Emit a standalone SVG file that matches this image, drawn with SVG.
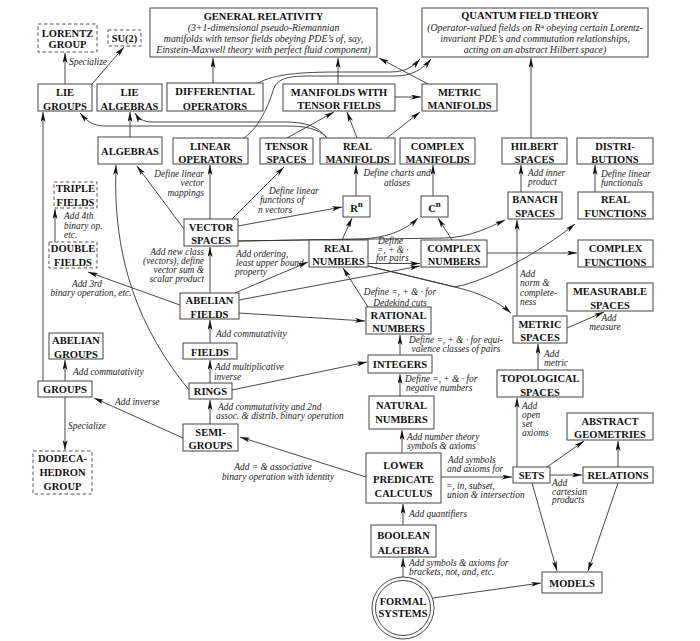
<svg xmlns="http://www.w3.org/2000/svg" width="700" height="641" viewBox="0 0 700 641">
<style>
.n rect,.n circle{fill:#fff;stroke:#444;stroke-width:1}
.d rect{fill:#fff;stroke:#555;stroke-width:1;stroke-dasharray:3.5 2.5}
.t{font-family:"Liberation Serif","Times New Roman",serif;font-weight:bold;font-size:10.5px;text-anchor:middle;fill:#111}
.s{font-family:"Liberation Serif","Times New Roman",serif;font-style:italic;font-size:9.8px;text-anchor:middle;fill:#222}
.l{font-family:"Liberation Serif","Times New Roman",serif;font-style:italic;font-size:9.4px;fill:#222}
.m{text-anchor:middle}
.e{text-anchor:end}
#edges path{fill:none;stroke:#333;stroke-width:0.9;marker-end:url(#a)}
</style>
<defs>
<marker id="a" viewBox="0 0 10 5" refX="10" refY="2.5" markerWidth="10" markerHeight="5" markerUnits="userSpaceOnUse" orient="auto"><path d="M0,0 L10,2.5 L0,5 L2.5,2.5z" fill="#111"/></marker>
</defs>
<rect width="700" height="641" fill="#fff"/>

<g id="edges">
<path d="M65,84 V53"/>
<path d="M92,84 L124,47"/>
<path d="M213,83 V58"/>
<path d="M338,84 V58"/>
<path d="M395,97 H421"/>
<path d="M428,84 L379,58"/>
<path d="M258,83 C275,74 300,72 340,72 L390,72 C405,72 413,67 420,59"/>
<path d="M244,138 C262,125 270,100 274,88 C278,78 290,76 310,76 L395,76 C412,76 423,69 431,59"/>
<path d="M327,138 C318,128 305,126 285,126 L105,126 C92,126 86,120 80,113"/>
<path d="M327,138 C318,126 305,122 285,122 L152,122 C143,122 138,118 135,113"/>
<path d="M287,138 L334,112"/>
<path d="M357,138 L347,112"/>
<path d="M387,138 L420,112"/>
<path d="M130,137 V112"/>
<path d="M184,229 L137,166"/>
<path d="M210,219 V165"/>
<path d="M232,219 L284,167"/>
<path d="M238,226 L342,207"/>
<path d="M238,241 L360,239 C390,238 408,228 418,218"/>
<path d="M238,241 L445,238 C470,237 488,228 505,220"/>
<path d="M356,196 V165"/>
<path d="M433,196 V165"/>
<path d="M342,240 L352,218"/>
<path d="M452,240 L438,218"/>
<path d="M368,263.5 H420"/>
<path d="M235,293 L308,262"/>
<path d="M239,300 L420,266"/>
<path d="M239,313 L365,321"/>
<path d="M368,307 L343,268"/>
<path d="M368,266 L455,287 C480,293 497,301 511,313"/>
<path d="M368,266 L455,287 C490,280 540,252 575,224"/>
<path d="M487,253 H577"/>
<path d="M210,293 V247"/>
<path d="M180,305 L88,272"/>
<path d="M55,242 V209"/>
<path d="M210,343 V320"/>
<path d="M210,383 V360"/>
<path d="M210,424 V400"/>
<path d="M189,390 C140,330 112,260 116,165"/>
<path d="M232,390 L367,362"/>
<path d="M43,381 V112"/>
<path d="M65,381 V360"/>
<path d="M65,397 V450"/>
<path d="M183,438 L94,398"/>
<path d="M366,477 L240,437"/>
<path d="M400,355 V335"/>
<path d="M400,396 V374"/>
<path d="M402,453 V430"/>
<path d="M403,525 V504"/>
<path d="M403,577 V558"/>
<path d="M433,598 L541,583"/>
<path d="M441,477 H512"/>
<path d="M517,467 V398"/>
<path d="M538,370 V344"/>
<path d="M517,316 V220"/>
<path d="M521,192 V165"/>
<path d="M531,138 V58"/>
<path d="M595,192 V165"/>
<path d="M567,328 L604,312"/>
<path d="M547,467 L584,441"/>
<path d="M618,467 V441"/>
<path d="M550,475 H582"/>
<path d="M532,483 L557,571"/>
<path d="M618,483 L588,571"/>
</g>

<g id="labels">
<text class="l" x="69" y="65">Specialize</text>
<text class="l e" x="204" y="176.5">Define linear</text>
<text class="l e" x="204" y="186">vector</text>
<text class="l e" x="204" y="195.5">mappings</text>
<text class="l" x="269" y="193.5">Define linear</text>
<text class="l" x="260" y="203">functions of</text>
<text class="l" x="258" y="212.5">n vectors</text>
<text class="l m" x="397" y="176">Define charts and</text>
<text class="l m" x="397" y="186">atlases</text>
<text class="l" x="378" y="244">Define</text>
<text class="l" x="377" y="252.5">=, + &amp; ·</text>
<text class="l" x="376" y="261">for pairs</text>
<text class="l" x="236" y="257">Add ordering,</text>
<text class="l" x="236" y="266">least upper bound</text>
<text class="l" x="235" y="275">property</text>
<text class="l m" x="400" y="295">Define =, + &amp; · for</text>
<text class="l m" x="400" y="305.5">Dedekind cuts</text>
<text class="l e" x="204" y="255">Add new class</text>
<text class="l e" x="204" y="264">(vectors), define</text>
<text class="l e" x="204" y="273">vector sum &amp;</text>
<text class="l e" x="204" y="282">scalar product</text>
<text class="l m" x="87" y="287">Add 3rd</text>
<text class="l m" x="91" y="296">binary operation, etc.</text>
<text class="l" x="64" y="219">Add 4th</text>
<text class="l" x="64" y="228.5">binary op.</text>
<text class="l" x="64" y="238">etc.</text>
<text class="l" x="216" y="337">Add commutativity</text>
<text class="l" x="215" y="370">Add multiplicative</text>
<text class="l" x="214" y="379.5">inverse</text>
<text class="l" x="218" y="410">Add commutativity and 2nd</text>
<text class="l" x="216" y="419">assoc. &amp; distrib. binary operation</text>
<text class="l" x="73" y="375">Add commutativity</text>
<text class="l" x="115" y="405">Add inverse</text>
<text class="l" x="68" y="429">Specialize</text>
<text class="l m" x="273" y="470">Add = &amp; associative</text>
<text class="l m" x="278" y="480">binary operation with identity</text>
<text class="l m" x="456" y="343">Define =, + &amp; · for equi-</text>
<text class="l m" x="456" y="352">valence classes of pairs</text>
<text class="l" x="405" y="382">Define =, + &amp; · for</text>
<text class="l" x="406" y="391">negative numbers</text>
<text class="l" x="407" y="439.5">Add number theory</text>
<text class="l" x="407" y="448.5">symbols &amp; axioms</text>
<text class="l" x="448" y="463">Add symbols</text>
<text class="l" x="447" y="472">and axioms for</text>
<text class="l" x="446" y="488.5">=, in, subset,</text>
<text class="l" x="447" y="497.5">union &amp; intersection</text>
<text class="l" x="409" y="517">Add quantifiers</text>
<text class="l" x="409" y="566">Add symbols &amp; axioms for</text>
<text class="l" x="409" y="575">brackets, not, and, etc.</text>
<text class="l" x="522" y="409">Add</text>
<text class="l" x="522" y="418">open</text>
<text class="l" x="522" y="427">set</text>
<text class="l" x="522" y="436">axioms</text>
<text class="l" x="544" y="357">Add</text>
<text class="l" x="544" y="366">metric</text>
<text class="l" x="552" y="486">Add</text>
<text class="l" x="552" y="494.5">cartesian</text>
<text class="l" x="552" y="503">products</text>
<text class="l m" x="609" y="321">Add</text>
<text class="l m" x="605" y="330">measure</text>
<text class="l" x="520" y="277">Add</text>
<text class="l" x="520" y="286">norm &amp;</text>
<text class="l" x="520" y="295.5">complete-</text>
<text class="l" x="520" y="304.5">ness</text>
<text class="l" x="528" y="176">Add inner</text>
<text class="l" x="528" y="185">product</text>
<text class="l" x="601" y="177">Define linear</text>
<text class="l" x="601" y="186">functionals</text>
</g>

<g id="lorentz" class="d"><rect x="38" y="24" width="59" height="28"/><text class="t" x="67.5" y="37">LORENTZ</text><text class="t" x="67.5" y="48">GROUP</text></g>
<g id="su2" class="d"><rect x="108" y="30" width="33" height="16"/><text class="t" x="124.5" y="42">SU(2)</text></g>
<g id="gr" class="n"><rect x="150" y="8" width="227" height="49"/><text class="t" x="263.5" y="19.5">GENERAL RELATIVITY</text><text class="s" x="263.5" y="30.5">(3+1-dimensional pseudo-Riemannian</text><text class="s" x="263.5" y="41.5">manifolds with tensor fields obeying PDE’s of, say,</text><text class="s" x="263.5" y="52.5">Einstein-Maxwell theory with perfect fluid component)</text></g>
<g id="qft" class="n"><rect x="422" y="8" width="226" height="49"/><text class="t" x="530" y="19">QUANTUM FIELD THEORY</text><text class="s" x="535" y="31">(Operator-valued fields on R<tspan font-style="normal" font-size="7" dy="-2.5">4</tspan><tspan dy="2.5"> obeying certain Lorentz-</tspan></text><text class="s" x="535" y="41.5">invariant PDE’s and commutation relationships,</text><text class="s" x="535" y="52.5">acting on an abstract Hilbert space)</text></g>
<g id="liegroups" class="n"><rect x="38" y="84" width="54" height="27"/><text class="t" x="65" y="96">LIE</text><text class="t" x="65" y="109.5">GROUPS</text></g>
<g id="liealgebras" class="n"><rect x="97" y="84" width="65" height="27"/><text class="t" x="129.5" y="96">LIE</text><text class="t" x="129.5" y="109.5">ALGEBRAS</text></g>
<g id="diffops" class="n"><rect x="167" y="83" width="96" height="28"/><text class="t" x="215" y="95">DIFFERENTIAL</text><text class="t" x="215" y="109.5">OPERATORS</text></g>
<g id="mwtf" class="n"><rect x="283" y="84" width="112" height="27"/><text class="t" x="339" y="95.5">MANIFOLDS WITH</text><text class="t" x="339" y="109">TENSOR FIELDS</text></g>
<g id="metricman" class="n"><rect x="422" y="84" width="75" height="27"/><text class="t" x="459.5" y="95.5">METRIC</text><text class="t" x="459.5" y="109">MANIFOLDS</text></g>
<g id="algebras" class="n"><rect x="98" y="137" width="64" height="27"/><text class="t" x="130" y="154.5">ALGEBRAS</text></g>
<g id="linops" class="n"><rect x="173" y="138" width="75" height="26"/><text class="t" x="210.5" y="149.5">LINEAR</text><text class="t" x="210.5" y="163">OPERATORS</text></g>
<g id="tensorsp" class="n"><rect x="260" y="138" width="53" height="26"/><text class="t" x="286.5" y="149.5">TENSOR</text><text class="t" x="286.5" y="163">SPACES</text></g>
<g id="realman" class="n"><rect x="320" y="138" width="75" height="26"/><text class="t" x="357.5" y="149.5">REAL</text><text class="t" x="357.5" y="163">MANIFOLDS</text></g>
<g id="complexman" class="n"><rect x="400" y="138" width="75" height="26"/><text class="t" x="437.5" y="149.5">COMPLEX</text><text class="t" x="437.5" y="163">MANIFOLDS</text></g>
<g id="hilbert" class="n"><rect x="502" y="138" width="65" height="26"/><text class="t" x="534.5" y="149.5">HILBERT</text><text class="t" x="534.5" y="163">SPACES</text></g>
<g id="distrib" class="n"><rect x="577" y="138" width="76" height="26"/><text class="t" x="615" y="149.5">DISTRI-</text><text class="t" x="615" y="163">BUTIONS</text></g>
<g id="triple" class="d"><rect x="54" y="182" width="43" height="26"/><text class="t" x="75.5" y="192">TRIPLE</text><text class="t" x="75.5" y="206">FIELDS</text></g>
<g id="double" class="d"><rect x="49" y="242" width="48" height="26"/><text class="t" x="73" y="252">DOUBLE</text><text class="t" x="73" y="266">FIELDS</text></g>
<g id="rn" class="n"><rect x="343" y="196" width="27" height="21"/><text class="t" x="356.5" y="211.5">R<tspan font-size="9" dy="-5">n</tspan></text></g>
<g id="cn" class="n"><rect x="421" y="196" width="27" height="21"/><text class="t" x="434.5" y="211.5">C<tspan font-size="9" dy="-5">n</tspan></text></g>
<g id="banach" class="n"><rect x="508" y="192" width="54" height="27"/><text class="t" x="535" y="203">BANACH</text><text class="t" x="535" y="216.5">SPACES</text></g>
<g id="realfunc" class="n"><rect x="578" y="192" width="75" height="27"/><text class="t" x="615.5" y="203">REAL</text><text class="t" x="615.5" y="216.5">FUNCTIONS</text></g>
<g id="vector" class="n"><rect x="184" y="219" width="54" height="27"/><text class="t" x="211" y="230.5">VECTOR</text><text class="t" x="211" y="244">SPACES</text></g>
<g id="realnum" class="n"><rect x="309" y="240" width="59" height="27"/><text class="t" x="338.5" y="251.5">REAL</text><text class="t" x="338.5" y="265">NUMBERS</text></g>
<g id="complexnum" class="n"><rect x="421" y="240" width="66" height="27"/><text class="t" x="454" y="251.5">COMPLEX</text><text class="t" x="454" y="265">NUMBERS</text></g>
<g id="complexfunc" class="n"><rect x="578" y="240" width="75" height="27"/><text class="t" x="615.5" y="252">COMPLEX</text><text class="t" x="615.5" y="265.5">FUNCTIONS</text></g>
<g id="measurable" class="n"><rect x="567" y="283" width="86" height="28"/><text class="t" x="610" y="294.5">MEASURABLE</text><text class="t" x="610" y="308.5">SPACES</text></g>
<g id="abelianfields" class="n"><rect x="180" y="293" width="59" height="26"/><text class="t" x="209.5" y="304">ABELIAN</text><text class="t" x="209.5" y="318">FIELDS</text></g>
<g id="rational" class="n"><rect x="366" y="307" width="65" height="27"/><text class="t" x="398.5" y="318.5">RATIONAL</text><text class="t" x="398.5" y="332">NUMBERS</text></g>
<g id="metricsp" class="n"><rect x="513" y="316" width="54" height="27"/><text class="t" x="540" y="327.5">METRIC</text><text class="t" x="540" y="341">SPACES</text></g>
<g id="abeliangroups" class="n"><rect x="49" y="333" width="54" height="26"/><text class="t" x="76" y="344">ABELIAN</text><text class="t" x="76" y="357.5">GROUPS</text></g>
<g id="fields" class="n"><rect x="183" y="343" width="54" height="16"/><text class="t" x="210" y="355.5">FIELDS</text></g>
<g id="integers" class="n"><rect x="368" y="355" width="64" height="18"/><text class="t" x="400" y="367.5">INTEGERS</text></g>
<g id="topological" class="n"><rect x="497" y="370" width="86" height="27"/><text class="t" x="540" y="381.5">TOPOLOGICAL</text><text class="t" x="540" y="395.5">SPACES</text></g>
<g id="groups" class="n"><rect x="38" y="381" width="54" height="16"/><text class="t" x="65" y="392.5">GROUPS</text></g>
<g id="rings" class="n"><rect x="189" y="383" width="43" height="16"/><text class="t" x="210.5" y="394.5">RINGS</text></g>
<g id="natural" class="n"><rect x="369" y="396" width="65" height="33"/><text class="t" x="401.5" y="409">NATURAL</text><text class="t" x="401.5" y="422.5">NUMBERS</text></g>
<g id="abstractgeo" class="n"><rect x="567" y="413" width="86" height="27"/><text class="t" x="610" y="424.5">ABSTRACT</text><text class="t" x="610" y="438">GEOMETRIES</text></g>
<g id="semigroups" class="n"><rect x="183" y="424" width="55" height="27"/><text class="t" x="210.5" y="435.5">SEMI-</text><text class="t" x="210.5" y="449">GROUPS</text></g>
<g id="dodeca" class="d"><rect x="33" y="451" width="59" height="43"/><text class="t" x="62.5" y="462">DODECA-</text><text class="t" x="62.5" y="476">HEDRON</text><text class="t" x="62.5" y="490">GROUP</text></g>
<g id="lpc" class="n"><rect x="366" y="453" width="75" height="50"/><text class="t" x="403.5" y="468.5">LOWER</text><text class="t" x="403.5" y="482.5">PREDICATE</text><text class="t" x="403.5" y="496.5">CALCULUS</text></g>
<g id="sets" class="n"><rect x="513" y="467" width="37" height="16"/><text class="t" x="531.5" y="478.5">SETS</text></g>
<g id="relations" class="n"><rect x="583" y="467" width="70" height="16"/><text class="t" x="618" y="478.5">RELATIONS</text></g>
<g id="boolean" class="n"><rect x="371" y="525" width="65" height="32"/><text class="t" x="403.5" y="539">BOOLEAN</text><text class="t" x="403.5" y="553.5">ALGEBRA</text></g>
<g id="models" class="n"><rect x="542" y="572" width="60" height="21"/><text class="t" x="572" y="586.5">MODELS</text></g>
<g id="formal" class="n"><circle cx="403" cy="608" r="31"/><circle cx="403" cy="608" r="27.5"/><text class="t" x="403" y="604.5">FORMAL</text><text class="t" x="403" y="616.5">SYSTEMS</text></g>
</svg>
